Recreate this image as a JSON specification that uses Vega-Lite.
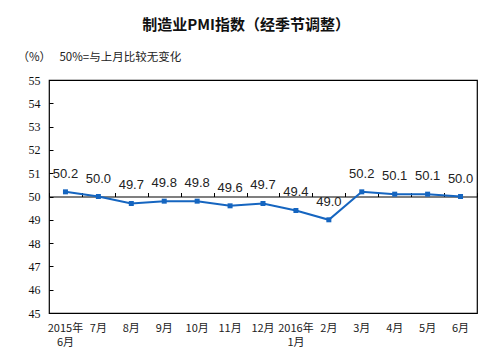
{
  "$schema": "https://vega.github.io/schema/vega-lite/v6.json",
  "width": 428,
  "height": 233,
  "autosize": {"type": "none"},
  "padding": {"left": 49, "top": 80, "right": 13, "bottom": 44},
  "background": "#ffffff",
  "title": {
    "text": "制造业PMI指数（经季节调整）",
    "anchor": "middle",
    "frame": "group",
    "dx": -17,
    "offset": 18,
    "fontSize": 15,
    "font": "Noto Sans CJK SC",
    "fontWeight": "bold",
    "color": "#111111"
  },
  "config": {
    "view": {"stroke": "#000000", "strokeWidth": 1.2},
    "axis": {"grid": false},
    "axisY": {"labelOverlap": false}
  },
  "data": {
    "values": [
      {"month": "2015年6月", "pmi": 50.2},
      {"month": "7月", "pmi": 50.0},
      {"month": "8月", "pmi": 49.7},
      {"month": "9月", "pmi": 49.8},
      {"month": "10月", "pmi": 49.8},
      {"month": "11月", "pmi": 49.6},
      {"month": "12月", "pmi": 49.7},
      {"month": "2016年1月", "pmi": 49.4},
      {"month": "2月", "pmi": 49.0},
      {"month": "3月", "pmi": 50.2},
      {"month": "4月", "pmi": 50.1},
      {"month": "5月", "pmi": 50.1},
      {"month": "6月", "pmi": 50.0}
    ]
  },
  "encoding": {
    "y": {
      "field": "pmi",
      "type": "quantitative",
      "scale": {"domain": [45, 55], "nice": false, "zero": false},
      "axis": {
        "values": [45, 46, 47, 48, 49, 50, 51, 52, 53, 54, 55],
        "tickCount": 11,
        "labelOverlap": false,
        "labelFlush": false,
        "domain": false,
        "ticks": true,
        "tickSize": -4,
        "tickColor": "#000000",
        "labelFont": "Liberation Serif",
        "labelFontSize": 12,
        "labelColor": "#111111",
        "labelPadding": 13,
        "title": "（%）\u3000 50%=与上月比较无变化",
        "titleAngle": 0,
        "titleX": -32,
        "titleY": -23,
        "titleAlign": "left",
        "titleBaseline": "middle",
        "titleFont": "Noto Sans CJK SC",
        "titleFontSize": 11.5,
        "titleFontWeight": "normal",
        "titleColor": "#222222"
      }
    }
  },
  "layer": [
    {
      "mark": {
        "type": "line",
        "color": "#1565c0",
        "strokeWidth": 2,
        "point": {"shape": "square", "size": 25, "filled": true, "color": "#1565c0"}
      },
      "encoding": {
        "x": {
          "field": "month",
          "type": "nominal",
          "sort": null,
          "bandPosition": 0.5,
          "scale": {"type": "band", "paddingInner": 0, "paddingOuter": 0},
          "axis": {
            "orient": "bottom",
            "offset": -116.5,
            "labels": false,
            "ticks": true,
            "tickBand": "extent",
            "tickSize": -4,
            "tickColor": "#000000",
            "domain": true,
            "domainColor": "#000000",
            "domainWidth": 1.2,
            "title": null
          }
        }
      }
    },
    {
      "mark": {
        "type": "text",
        "dy": -18,
        "fontSize": 13,
        "font": "Liberation Sans",
        "color": "#222222",
        "baseline": "middle"
      },
      "encoding": {
        "x": {
          "field": "month",
          "type": "nominal",
          "sort": null,
          "bandPosition": 0.5,
          "axis": {
            "orient": "bottom",
            "labels": true,
            "ticks": false,
            "domain": false,
            "labelExpr": "indexof(datum.label,'年')>0 ? [slice(datum.label,0,5), slice(datum.label,5)] : datum.label",
            "labelFont": "Noto Sans CJK SC",
            "labelFontSize": 11,
            "labelColor": "#222222",
            "labelPadding": 9,
            "labelLineHeight": 14,
            "labelAngle": 0,
            "labelBaseline": "top",
            "title": null
          }
        },
        "text": {"field": "pmi", "type": "quantitative", "format": ".1f"}
      }
    }
  ],
  "resolve": {"axis": {"x": "independent"}}
}
